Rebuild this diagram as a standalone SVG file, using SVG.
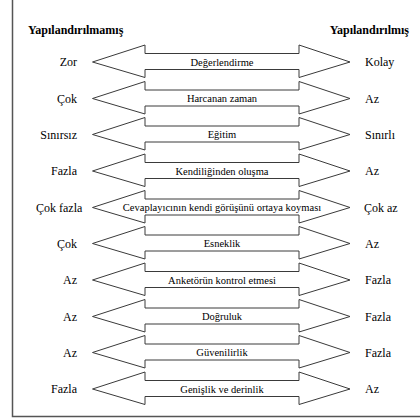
<svg xmlns="http://www.w3.org/2000/svg" width="420" height="420" viewBox="0 0 420 420" font-family="'Liberation Serif', 'DejaVu Serif', serif">
<style>
.arrow{fill:#fff;stroke:#3a3a3a;stroke-width:1}
text{font-family:'Liberation Serif','DejaVu Serif',serif;fill:#000}
.side{font-size:12px}
.inner{font-size:10.5px;text-anchor:middle}
.head{font-size:12px;font-weight:bold}
.l{text-anchor:end}
</style>
<defs>
<path id="dbl" class="arrow" d="M92.5,0 L145,-17 V-8.5 H299 V-17 L350,0 L299,15.5 V7.5 H145 V15.5 Z"/>
</defs>
<rect width="420" height="420" fill="#fff"/>
<path d="M12.5,0 V416.5 H420" fill="none" stroke="#555" stroke-width="1.5"/>
<text class="head" x="28" y="34">Yapılandırılmamış</text>
<text class="head" x="409" y="34" text-anchor="end">Yapılandırılmış</text>
<g id="connectors"></g>
<g id="row1" transform="translate(0,62)"><use href="#dbl"/><text class="inner" x="222" y="3.5">Değerlendirme</text><text class="side l" x="77" y="4">Zor</text><text class="side" x="365" y="4">Kolay</text></g>
<g id="row2" transform="translate(0,98.5)"><use href="#dbl"/><text class="inner" x="222" y="3.5">Harcanan zaman</text><text class="side l" x="77" y="4">Çok</text><text class="side" x="365" y="4">Az</text></g>
<g id="row3" transform="translate(0,134.5)"><use href="#dbl"/><text class="inner" x="222" y="3.5">Eğitim</text><text class="side l" x="77" y="4">Sınırsız</text><text class="side" x="365" y="4">Sınırlı</text></g>
<g id="row4" transform="translate(0,171)"><use href="#dbl"/><text class="inner" x="222" y="3.5">Kendiliğinden oluşma</text><text class="side l" x="77" y="4">Fazla</text><text class="side" x="365" y="4">Az</text></g>
<g id="row5" transform="translate(0,207.5)"><use href="#dbl"/><text class="inner" x="222" y="3.5">Cevaplayıcının kendi görüşünü ortaya koyması</text><text class="side" x="36" y="4">Çok fazla</text><text class="side" x="364" y="4">Çok az</text></g>
<g id="row6" transform="translate(0,243.5)"><use href="#dbl"/><text class="inner" x="222" y="3.5">Esneklik</text><text class="side l" x="77" y="4">Çok</text><text class="side" x="365" y="4">Az</text></g>
<g id="row7" transform="translate(0,280)"><use href="#dbl"/><text class="inner" x="222" y="3.5">Anketörün kontrol etmesi</text><text class="side l" x="77" y="4">Az</text><text class="side" x="365" y="4">Fazla</text></g>
<g id="row8" transform="translate(0,316.5)"><use href="#dbl"/><text class="inner" x="222" y="3.5">Doğruluk</text><text class="side l" x="77" y="4">Az</text><text class="side" x="365" y="4">Fazla</text></g>
<g id="row9" transform="translate(0,352.5)"><use href="#dbl"/><text class="inner" x="222" y="3.5">Güvenilirlik</text><text class="side l" x="77" y="4">Az</text><text class="side" x="365" y="4">Fazla</text></g>
<g id="row10" transform="translate(0,389)"><use href="#dbl"/><text class="inner" x="222" y="3.5">Genişlik ve derinlik</text><text class="side l" x="77" y="4">Fazla</text><text class="side" x="365" y="4">Az</text></g>
</svg>
